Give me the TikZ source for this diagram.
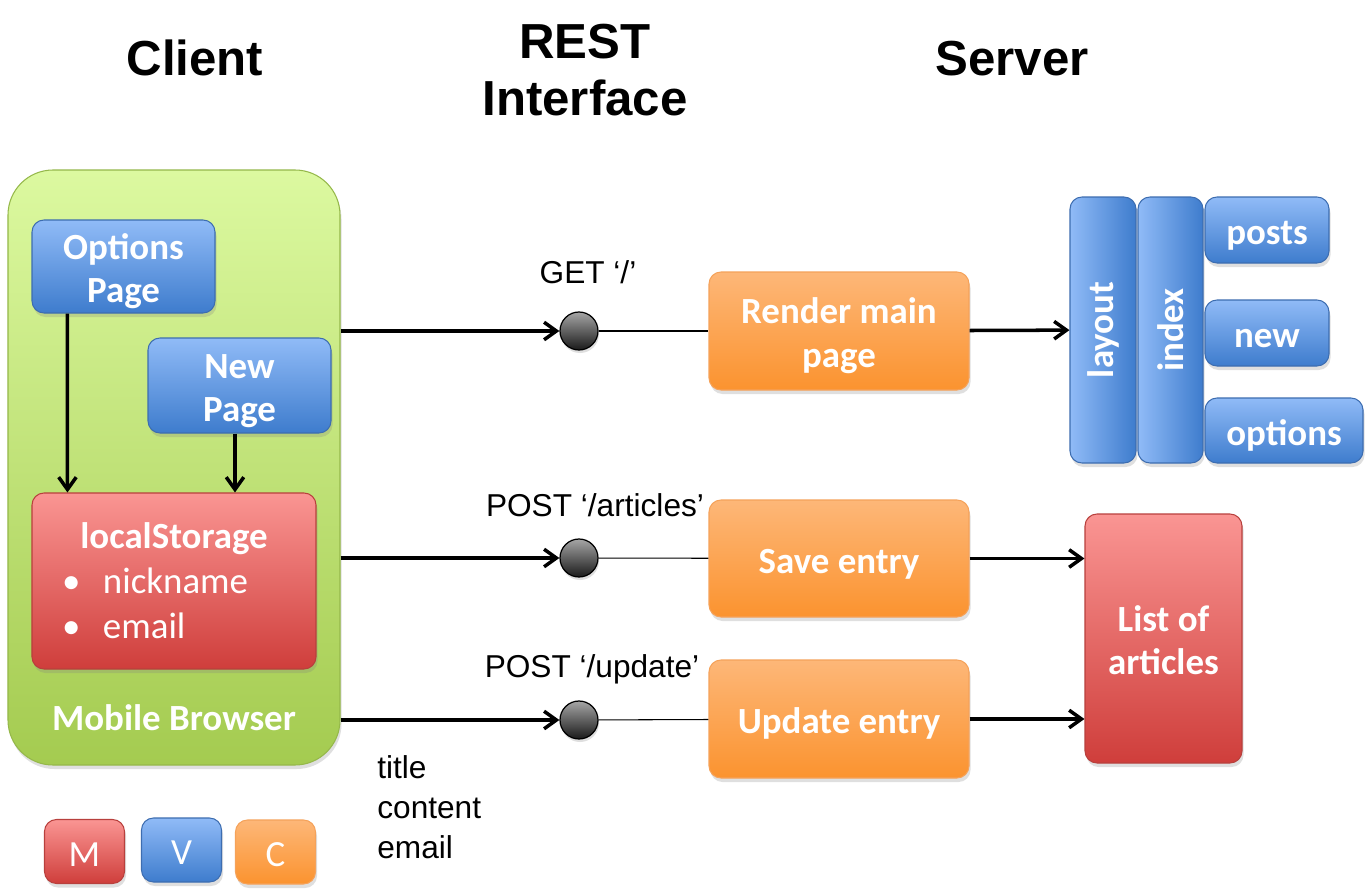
\documentclass[tikz,border=0pt]{standalone}
\usepackage{fontspec}
\usepackage{graphicx}
\setmainfont{Carlito}
\newfontfamily\arialfont{Liberation Sans}
\usetikzlibrary{arrows.meta,shadows}

\definecolor{vtop}{HTML}{90BBF7}
\definecolor{vbot}{HTML}{3E7CCD}
\definecolor{vline}{HTML}{3D6DB0}
\definecolor{mtop}{HTML}{FA9593}
\definecolor{mbot}{HTML}{CF3E3B}
\definecolor{mline}{HTML}{B8403D}
\definecolor{ctop}{HTML}{FDB778}
\definecolor{cbot}{HTML}{FB932F}
\definecolor{cline}{HTML}{F5A25A}
\definecolor{gtop}{HTML}{DCF9A0}
\definecolor{gbot}{HTML}{A4CB50}
\definecolor{gline}{HTML}{95B84A}

\tikzset{
	boxtext/.style={text=white, align=center, font=\fontsize{21}{25}\selectfont\bfseries},
	box/.style={boxtext, rounded corners=.24cm, draw, line width=.6pt,
		drop shadow={opacity=.25, shadow xshift=.03cm, shadow yshift=-.08cm}},
	% fixed text box, so that every box puts its baseline at the same place
	oneline/.style={text height=21pt, text depth=4.5pt, inner ysep=0pt},
	twoline/.style={text height=46pt, text depth=4.5pt, inner ysep=0pt},
	viewbox/.style={box, draw=vline, top color=vtop, bottom color=vbot},
	sideview/.style={box, draw=vline, left color=vtop, right color=vbot},
	modelbox/.style={box, draw=mline, top color=mtop, bottom color=mbot},
	ctrlbox/.style={box, draw=cline, top color=ctop, bottom color=cbot},
	legend/.style={oneline, font=\fontsize{21}{25}\selectfont, minimum width=1.6cm, minimum height=1.28cm},
	title/.style={font=\arialfont\bfseries\fontsize{28}{32.4}\selectfont, align=center},
	lbl/.style={font=\arialfont\fontsize{18}{22.8}\selectfont, inner sep=0pt},
	port/.style={circle, draw=black, line width=.7pt, top color=black!35, bottom color=black!90,
		minimum size=.76cm, inner sep=0pt,
		drop shadow={opacity=.25, shadow xshift=.02cm, shadow yshift=-.06cm}},
	arr/.style={line width=2pt, -{Straight Barb[length=7pt,width=10pt,line width=2pt]}}
}

\begin{document}
\begin{tikzpicture}
	\path[use as bounding box, fill=white] (0,0) rectangle (27.42,-17.9);

	% column headings
	\node[title, anchor=base] (client) at (3.9,-1.52) {Client};
	\node[title] (rest) at (11.7,-1.4) {REST\\Interface};
	\node[title, anchor=base] (server) at (20.24,-1.52) {Server};

	% client side
	\node[box, draw=gline, top color=gtop, bottom color=gbot, rounded corners=.9cm,
		minimum width=6.64cm, minimum height=11.9cm] (browser) at (3.48,-9.35) {};
	\node[boxtext, anchor=base, inner sep=0pt] (browsername) at (3.48,-14.6) {Mobile Browser};
	\node[viewbox, twoline, minimum width=3.66cm, minimum height=1.86cm] (opts) at (2.47,-5.33) {Options\\Page};
	\node[viewbox, twoline, minimum width=3.66cm, minimum height=1.9cm] (newp) at (4.79,-7.71) {New\\Page};
	\node[modelbox, minimum width=5.68cm, minimum height=3.52cm, inner xsep=.6cm,
		text width=4.48cm, align=left, font=\fontsize{21}{25.6}\selectfont] (store) at (3.48,-11.62)
		{\makebox[\linewidth][c]{\bfseries localStorage}\\
		 \makebox[.82cm][l]{\textbullet}nickname\\
		 \makebox[.82cm][l]{\textbullet}email};

	\draw[arr] ([xshift=.72cm]opts.south west) -- ([xshift=.72cm]store.north west);
	\draw[arr] ([xshift=-.09cm]newp.south) -- ([xshift=-.09cm]newp.south |- store.north);

	% controllers
	\node[ctrlbox, twoline, minimum width=5.2cm, minimum height=2.36cm] (render) at (16.78,-6.62) {Render main\\page};
	\node[ctrlbox, oneline, minimum width=5.2cm, minimum height=2.34cm] (save) at (16.78,-11.17) {Save entry};
	\node[ctrlbox, oneline, minimum width=5.2cm, minimum height=2.36cm] (update) at (16.78,-14.38) {Update entry};

	% rest interface
	\foreach \pt/\ctrl/\y in {getpt/render/6.62, postpt/save/11.16, updpt/update/14.4} {
		\node[port] (\pt) at (11.58,-\y) {};
		\draw[arr] (browser.east |- \pt) -- (\pt);
		\draw[line width=.6pt] (\pt) -- (\ctrl);
	}
	\node[lbl, anchor=base] (getlbl) at (11.76,-5.66) {GET ‘/’};
	\node[lbl, anchor=base] (postlbl) at (11.9,-10.32) {POST ‘/articles’};
	\node[lbl, anchor=base] (updlbl) at (11.84,-13.54) {POST ‘/update’};
	\node[lbl, anchor=north west, align=left] (fields) at (7.54,-15.1) {title\\content\\email};

	% server views
	\node[sideview, minimum width=1.32cm, minimum height=5.32cm] (layout) at (22.06,-6.6) {\rotatebox{90}{layout}};
	\node[sideview, minimum width=1.3cm, minimum height=5.32cm] (index) at (23.41,-6.6) {\rotatebox{90}{index}};
	\node[viewbox, oneline, minimum width=2.48cm, minimum height=1.32cm] (posts) at (25.34,-4.6) {posts};
	\node[viewbox, oneline, minimum width=2.48cm, minimum height=1.32cm] (newv) at (25.34,-6.66) {new};
	\node[viewbox, oneline, minimum width=3.16cm, minimum height=1.3cm] (optv) at (25.68,-8.61) {options};

	% model
	\node[modelbox, twoline, minimum width=3.14cm, minimum height=4.98cm] (list) at (23.27,-12.77) {List of\\articles};

	\draw[arr] (render) -- (layout);
	\draw[arr] (save) -- (save -| list.west);
	\draw[arr] (update) -- (update -| list.west);

	% legend
	\node[modelbox, legend] (m) at (1.69,-17.03) {M};
	\node[viewbox, legend] (v) at (3.63,-17.0) {V};
	\node[ctrlbox, legend] (c) at (5.51,-17.04) {C};
\end{tikzpicture}
\end{document}
